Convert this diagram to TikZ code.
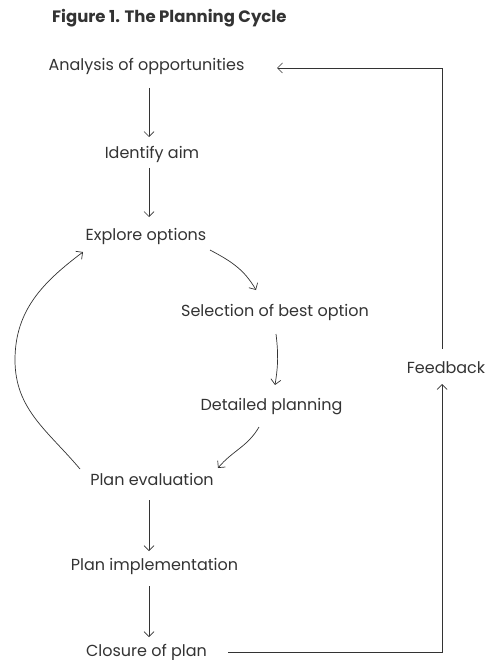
\documentclass[tikz,border=0pt]{standalone}
\usepackage{fontspec}
\setmainfont{Poppins}
\usetikzlibrary{arrows.meta}
\definecolor{ink}{HTML}{333333}
\begin{document}
\begin{tikzpicture}[x=1pt,y=1pt,
  every node/.style={text=ink},
  lbl/.style={font=\fontsize{16}{18}\selectfont, inner sep=0pt, text height=11pt, text depth=3pt},
  arr/.style={draw=ink, line width=0.7pt, -{Straight Barb[length=5pt,width=10pt]}},
  ln/.style={draw=ink, line width=0.7pt}]
\useasboundingbox (0,0) rectangle (489,-660);

% title
\node[anchor=west, inner sep=0pt, font=\bfseries\fontsize{16.5}{18}\selectfont] (title) at (52,-18) {Figure 1. The Planning Cycle};

% stages of the cycle
\node[lbl] (ana) at (146.5,-67)  {Analysis of opportunities};
\node[lbl] (aim) at (152,-155)   {Identify aim};
\node[lbl] (exp) at (146,-236)   {Explore options};
\node[lbl] (sel) at (275,-312)   {Selection of best option};
\node[lbl] (det) at (271.5,-406) {Detailed planning};
\node[lbl] (evl) at (152,-481)   {Plan evaluation};
\node[lbl] (imp) at (154.5,-566) {Plan implementation};
\node[lbl] (clo) at (146.5,-652) {Closure of plan};
\node[lbl] (fb)  at (446,-369)   {Feedback};

% column of the straight downward arrows, and the outer turn of the return arc
\coordinate (col) at (149,0);
\coordinate (arcleft) at (15,-360);

\draw[arr, shorten <=21pt, shorten >=18pt] (ana.center -| col) -- (aim.center -| col);
\draw[arr, shorten <=13pt, shorten >=19pt] (aim.center -| col) -- (exp.center -| col);
\draw[arr] ([xshift=64pt,yshift=-14pt]exp.center) to[out=-28,in=120] ([xshift=-19pt,yshift=22pt]sel.center);
\draw[arr] ([xshift=1pt,yshift=-22pt]sel.center) to[bend left=8] ([xshift=3.5pt,yshift=21pt]det.center);
\draw[arr] ([xshift=-12.5pt,yshift=-21pt]det.center) to[out=-120,in=50] ([xshift=66pt,yshift=13pt]evl.center);
\draw[arr] ([xshift=-72pt,yshift=12pt]evl.center) to[out=130,in=-90] (arcleft)
           to[out=90,in=-143] ([xshift=-63pt,yshift=-16pt]exp.center);
\draw[arr, shorten <=19pt, shorten >=15pt] (evl.center -| col) -- (imp.center -| col);
\draw[arr, shorten <=20pt, shorten >=15pt] (imp.center -| col) -- (clo.center -| col);

% feedback loop
\draw[arr] ([xshift=81.5pt]clo.center) -| ([xshift=-4pt,yshift=-15pt]fb.center);
\draw[arr] ([xshift=-4pt,yshift=20pt]fb.center) |- ([xshift=130.5pt,yshift=-1pt]ana.center);
\end{tikzpicture}
\end{document}
